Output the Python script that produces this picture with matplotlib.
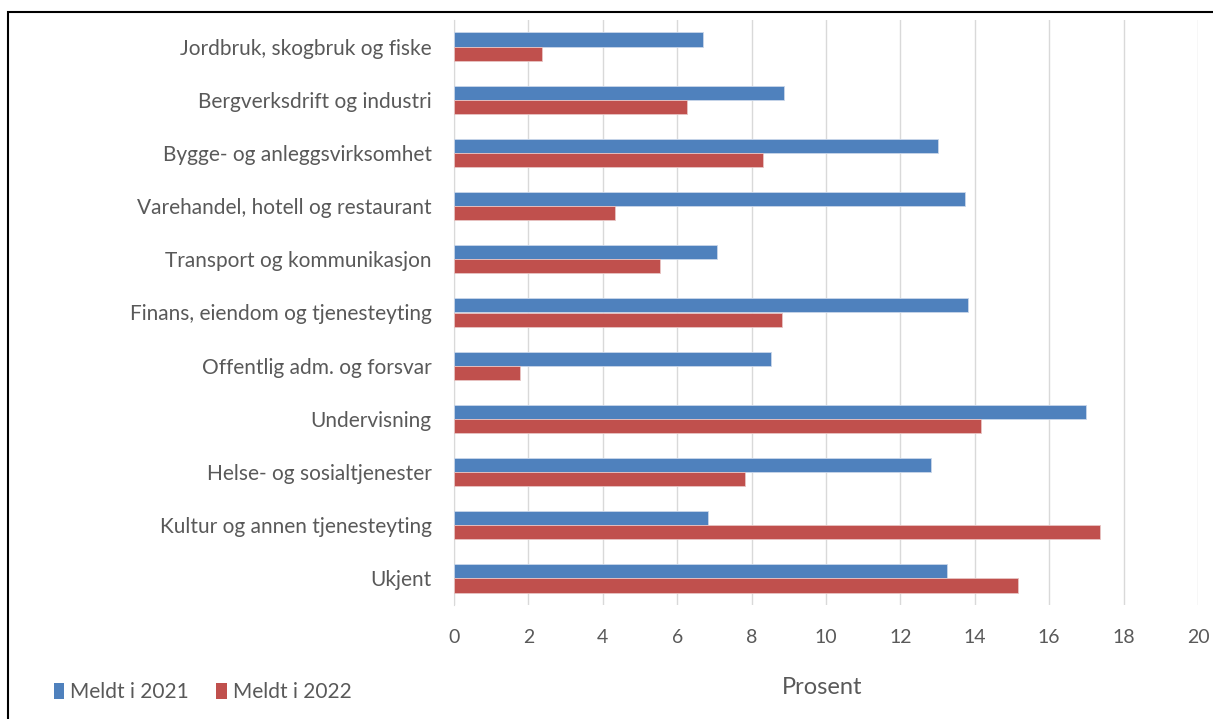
import matplotlib
matplotlib.use("Agg")
import matplotlib.pyplot as plt
import numpy as np
from matplotlib.patches import Rectangle, Patch

plt.rcParams["font.family"] = ["Lato", "DejaVu Sans"]

categories = [
    "Jordbruk, skogbruk og fiske",
    "Bergverksdrift og industri",
    "Bygge- og anleggsvirksomhet",
    "Varehandel, hotell og restaurant",
    "Transport og kommunikasjon",
    "Finans, eiendom og tjenesteyting",
    "Offentlig adm. og forsvar",
    "Undervisning",
    "Helse- og sosialtjenester",
    "Kultur og annen tjenesteyting",
    "Ukjent",
]
meldt_2021 = [6.69, 8.86, 13.01, 13.74, 7.07, 13.81, 8.51, 16.99, 12.83, 6.83, 13.25]
meldt_2022 = [2.37, 6.27, 8.31, 4.32, 5.55, 8.81, 1.78, 14.18, 7.83, 17.36, 15.16]
series_labels = ["Meldt i 2021", "Meldt i 2022"]
x_ticks = list(range(0, 21, 2))

BLUE = "#4F81BD"
RED = "#C0504D"
TEXT = "#595959"

W, H = 1213, 719
fig = plt.figure(figsize=(W / 100, H / 100), dpi=100)

# plot area in pixel coords
left, right, top, bottom = 454, 1198, 20, 605
ax = fig.add_axes([left / W, 1 - bottom / H, (right - left) / W, (bottom - top) / H])

y = np.arange(len(categories))
h = 0.265
ax.barh(y - h / 2, meldt_2021, height=h, color=BLUE, edgecolor="#C9D6EA", linewidth=0.6, zorder=3)
ax.barh(y + h / 2, meldt_2022, height=h, color=RED, edgecolor="#E8C4C3", linewidth=0.6, zorder=3)

ax.set_ylim(len(categories) - 0.5, -0.5)
ax.set_xlim(0, 20)
ax.set_xticks(x_ticks)
ax.set_yticks(y)
ax.set_yticklabels(categories)

ax.grid(axis="x", color="#D9D9D9", linewidth=1.0, zorder=0)
for s in ["top", "right", "bottom"]:
    ax.spines[s].set_visible(False)
ax.spines["left"].set_color("#D9D9D9")
ax.tick_params(axis="both", length=0, colors=TEXT)
ax.tick_params(axis="y", pad=16, labelsize=15)
ax.tick_params(axis="x", pad=17, labelsize=14)

fig.text(822 / W, 1 - 687 / H, "Prosent", ha="center", va="center", color=TEXT, fontsize=17)

handles = [Patch(facecolor=BLUE), Patch(facecolor=RED)]
fig.legend(handles, series_labels, loc="center left", bbox_to_anchor=(35 / W, 1 - 692 / H),
           frameon=False, ncol=2, fontsize=15, handlelength=0.5, handleheight=0.8,
           handletextpad=0.3, columnspacing=1.3, labelcolor=TEXT)

# outer frame
fig.add_artist(Rectangle((8 / W, -0.05), 1.1, 1 - 12 / H + 0.05, transform=fig.transFigure,
                         fill=False, edgecolor="black", linewidth=1.5))

fig.savefig("out.png", dpi=100, facecolor="white")
